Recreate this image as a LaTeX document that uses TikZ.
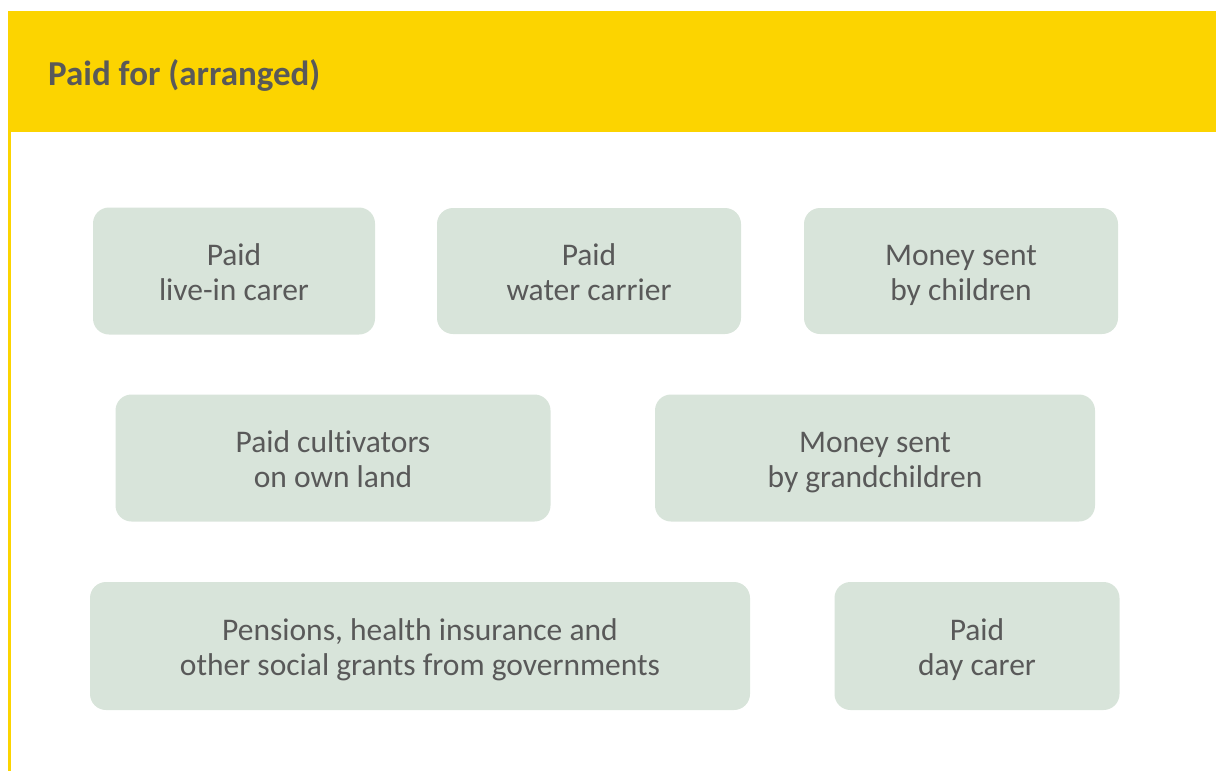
\documentclass[tikz,border=0pt]{standalone}
\usepackage{fontspec}
\setmainfont{Carlito}[Ligatures=NoCommon]
\definecolor{headyellow}{HTML}{FCD400}
\definecolor{sage}{HTML}{D8E4DA}
\definecolor{inkgray}{HTML}{595959}

\begin{document}
\begin{tikzpicture}[x=1pt,y=-1pt]

\tikzstyle{band} = [fill=headyellow, draw=none]
\tikzstyle{title} = [anchor=base west, inner sep=0, text=inkgray, font=\fontsize{35}{40}\selectfont\bfseries]
\tikzstyle{item} = [rectangle, rounded corners=16pt, inner sep=0, align=center, text=inkgray, fill=sage, text height=65pt, text depth=7pt, font=\fontsize{31.5}{35}\selectfont]

\useasboundingbox (0,0) rectangle (1216,771);

% Header band
\fill [band] (8,11) rectangle (1216,132);
\fill [band] (8,132) rectangle (11,771);
\node (head) [title] at (48,85) {Paid for (arranged)};

% Boxes
\node (livein) [item, minimum width=282pt, minimum height=127pt] at (234,271) {Paid\\live-in carer};
\node (water) [item, minimum width=304pt, minimum height=126pt] at (589,271) {Paid\\water carrier};
\node (children) [item, minimum width=314pt, minimum height=126pt] at (961,271) {Money sent\\by children};
\node (cultiv) [item, minimum width=435pt, minimum height=127pt] at (333,458) {Paid cultivators\\on own land};
\node (grand) [item, minimum width=440pt, minimum height=127pt] at (875,458) {Money sent\\by grandchildren};
\node (pension) [item, minimum width=660pt, minimum height=128pt] at (420,646) {Pensions, health insurance and\\other social grants from governments};
\node (daycare) [item, minimum width=285pt, minimum height=128pt] at (977,646) {Paid\\day carer};

\end{tikzpicture}
\end{document}
